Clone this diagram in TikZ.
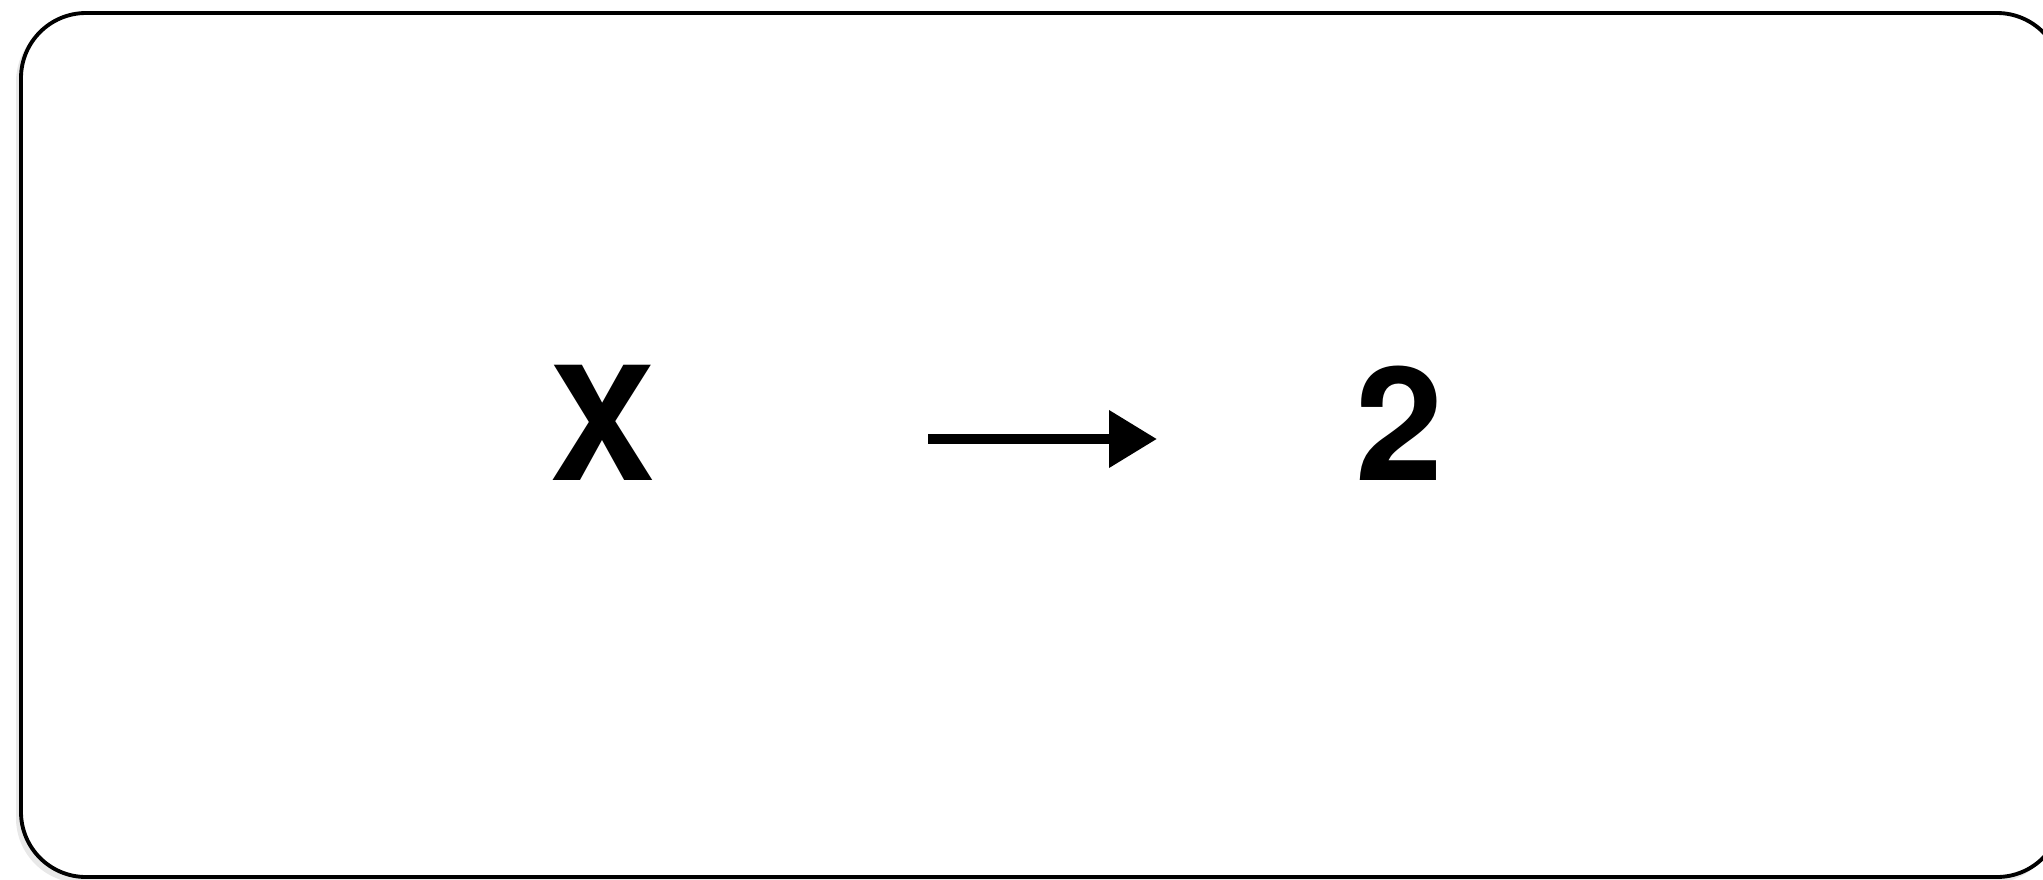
\documentclass[tikz,border=0pt]{standalone}
\usepackage{fontspec}
\setmainfont{TeX Gyre Heros}
\usetikzlibrary{arrows.meta}

\begin{document}
\begin{tikzpicture}[frame/.style={draw=black,line width=1.1pt,rounded corners=0.65cm},
  lab/.style={inner sep=0pt,anchor=base,font=\fontsize{45}{54}\selectfont\bfseries},
  arr/.style={line width=3pt,-{Triangle[length=0.48cm,width=0.55cm]}}]
  \useasboundingbox (0,0) rectangle (20.43,8.79);
  \fill[gray!18,rounded corners=0.65cm] (0.16,-0.04) rectangle (20.57,8.62);
  \draw[frame,fill=white] (0.21,0.02) rectangle (20.62,8.66);

  \node[lab] (x) at (6.02,3.99) {X};
  \node[lab] (two) at (13.99,3.99) {2};
  \coordinate (from) at (9.28,4.40);
  \coordinate (to) at (11.57,4.40);
  \draw[arr] (from) -- (to);
\end{tikzpicture}
\end{document}
